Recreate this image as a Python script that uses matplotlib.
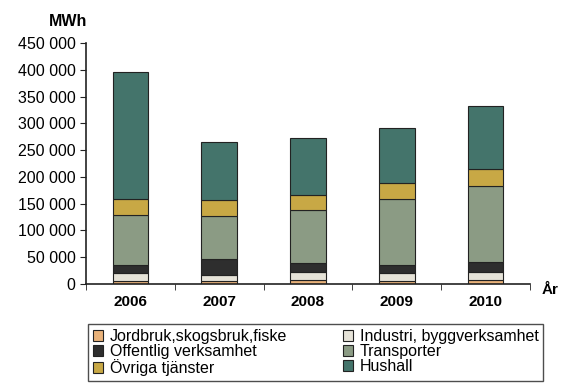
import matplotlib
matplotlib.use("Agg")
import matplotlib.pyplot as plt
from matplotlib.ticker import FuncFormatter, FixedLocator

plt.rcParams["font.family"] = ["Liberation Sans", "DejaVu Sans"]

years = ["2006", "2007", "2008", "2009", "2010"]
sectors = ["Jordbruk,skogsbruk,fiske", "Industri, byggverksamhet",
           "Offentlig verksamhet", "Transporter", "Övriga tjänster", "Hushall"]
jordbruk    = [6000, 6000, 8000, 6000, 8000]
industri    = [14000, 10000, 14000, 14000, 14000]
offentlig   = [15000, 31000, 17000, 15000, 19000]
transporter = [93000, 80000, 99000, 124000, 142000]
ovriga      = [30000, 30000, 28000, 29000, 32000]
hushall     = [238000, 108000, 106000, 103000, 117000]
series = [jordbruk, industri, offentlig, transporter, ovriga, hushall]
colors = ["#e9b27a", "#e6e3d8", "#2e2e2e", "#8b9b84", "#c8a845", "#44746b"]

fig = plt.figure(figsize=(5.62, 3.85), dpi=100)
ax = fig.add_axes([0.153, 0.2623, 0.79, 0.626])

x = list(range(len(years)))
bottom = [0] * len(years)
handles = []
for name, vals, color in zip(sectors, series, colors):
    h = ax.bar(x, vals, 0.4, bottom=bottom, color=color,
               edgecolor="#222222", linewidth=0.8, label=name)
    handles.append(h)
    bottom = [b + v for b, v in zip(bottom, vals)]

ax.set_xlim(-0.5, 4.5)
ax.set_ylim(0, 450000)
ax.set_yticks(range(0, 450001, 50000))
ax.yaxis.set_major_formatter(FuncFormatter(lambda v, p: f"{int(v):,}".replace(",", " ")))
ax.set_xticks(x)
ax.set_xticklabels(years, fontsize=11, fontweight="bold")
ax.xaxis.set_minor_locator(FixedLocator([i + 0.5 for i in range(-1, 5)]))
ax.tick_params(axis="x", which="major", length=0, pad=8)
ax.tick_params(axis="x", which="minor", length=4, direction="out", color="#222222")
ax.tick_params(axis="y", length=4, direction="out", labelsize=11.5, color="#222222")
for s in ("top", "right"):
    ax.spines[s].set_visible(False)
for s in ("left", "bottom"):
    ax.spines[s].set_color("#222222")
    ax.spines[s].set_linewidth(1.2)

fig.text(87 / 562, 1 - 22 / 385, "MWh", ha="right", va="center",
         fontsize=11.5, fontweight="bold")
fig.text(550 / 562, 1 - 290 / 385, "År", ha="center", va="center",
         fontsize=11, fontweight="bold")

# legend filled row by row: reorder for matplotlib's column-major fill
order = [0, 2, 4, 1, 3, 5]
leg = fig.legend([handles[i] for i in order], [sectors[i] for i in order],
                 ncol=2, loc="upper left",
                 bbox_to_anchor=(88 / 562, 1 - 324 / 385),
                 frameon=True, fancybox=False, fontsize=11.5,
                 handlelength=0.65, handleheight=0.65, handletextpad=0.4,
                 columnspacing=3.5, labelspacing=0.02, borderpad=0.3,
                 borderaxespad=0)
leg.get_frame().set_edgecolor("#222222")
leg.get_frame().set_linewidth(1.0)

fig.savefig("out.png", dpi=100, facecolor="white")
